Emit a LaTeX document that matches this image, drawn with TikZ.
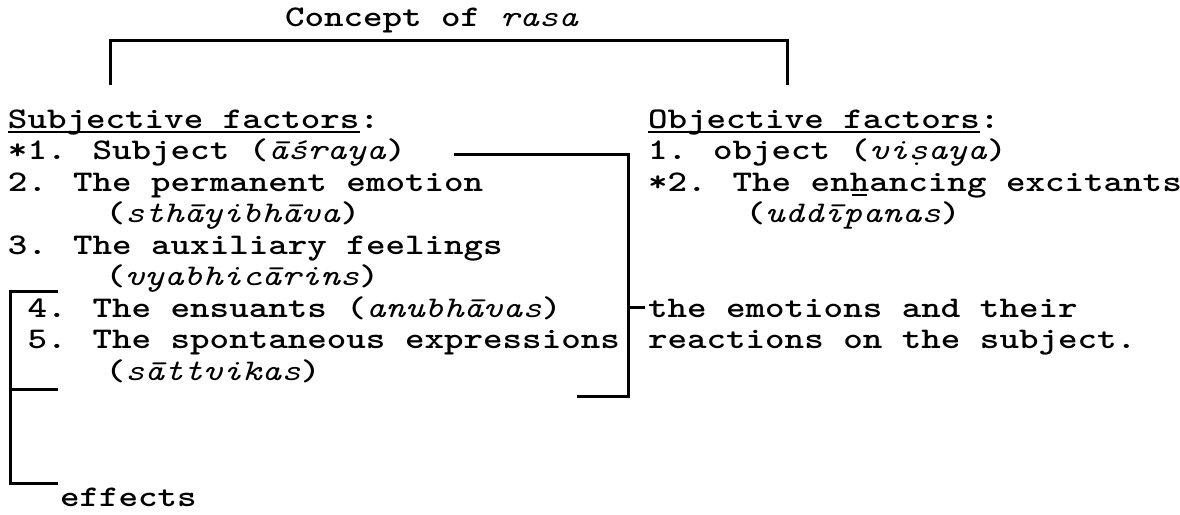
\documentclass[tikz,border=0pt]{standalone}
\usepackage{fontspec}
\newfontfamily\tw{lmmonolt10-bold.otf}[ItalicFont=lmmono10-italic.otf, FakeStretch=1.24]
\newcommand\twf{\tw\fontsize{30pt}{31.5pt}\selectfont}
\newcommand\ulin[1]{\setbox0\hbox{#1}\rlap{\rule[-4.5pt]{\wd0}{1.8pt}}\box0}
\newcommand\barbelow[1]{\setbox0\hbox{#1}\rlap{\hspace{0.1\wd0}\rule[-4.5pt]{0.8\wd0}{1.8pt}}\box0}
\begin{document}
\begin{tikzpicture}[x=1pt,y=-1pt,
  txt/.style={inner sep=0pt, outer sep=0pt, anchor=base west, font=\twf},
  brk/.style={line width=3pt}]
\useasboundingbox (0,0) rectangle (1180,514);
% title
\node[txt] (title) at (285,27) {Concept of \textit{rasa}};
% left column
\node[txt] (L0) at (8,128) {\ulin{Subjective factors}:};
\node[txt] (L1) at (8,159.5) {*1. Subject (\textit{āśraya})};
\node[txt] (L2) at (8,191) {2. The permanent emotion};
\node[txt] (L3) at (105.5,222.5) {(\textit{sthāyibhāva})};
\node[txt] (L4) at (8,254) {3. The auxiliary feelings};
\node[txt] (L5) at (105.5,285.5) {(\textit{vyabhicārins})};
\node[txt] (L6) at (27.5,317) {4. The ensuants (\textit{anubhāvas})};
\node[txt] (L7) at (27.5,348.5) {5. The spontaneous expressions};
\node[txt] (L8) at (105.5,380) {(\textit{sāttvikas})};
\node[txt] (eff) at (60,506) {effects};
% right column
\node[txt] (R0) at (648,128) {\ulin{Objective factors}:};
\node[txt] (R1) at (648,159.5) {1. object (\textit{viṣaya})};
\node[txt] (R2) at (648,191) {*2. The en\barbelow{h}ancing excitants};
\node[txt] (R3) at (745.5,222.5) {(\textit{uddīpanas})};
\node[txt] (R6) at (648,317) {the emotions and their};
\node[txt] (R7) at (648,348.5) {reactions on the subject.};
% top bracket
\coordinate (tl) at (110,85);
\coordinate (tr) at (787,85);
\coordinate (top) at (448,40);
\draw[brk] (tl) |- (top) -| (tr);
% right bracket
\coordinate (ra) at (454,154);
\coordinate (rc) at (628,396);
\coordinate (rd) at (577,396);
\draw[brk] (ra) -| (rc) -- (rd);
\draw[brk] (R6.west -| rc) -- ([xshift=-3pt]R6.west);
% left bracket
\coordinate (lt) at (58,291);
\coordinate (lb) at (10,483);
\coordinate (lbe) at (58,483);
\coordinate (lm1) at (10,389);
\coordinate (lm2) at (58,389);
\draw[brk] (lt) -| (lb) -- (lbe);
\draw[brk] (lm1) -- (lm2);
\end{tikzpicture}
\end{document}
